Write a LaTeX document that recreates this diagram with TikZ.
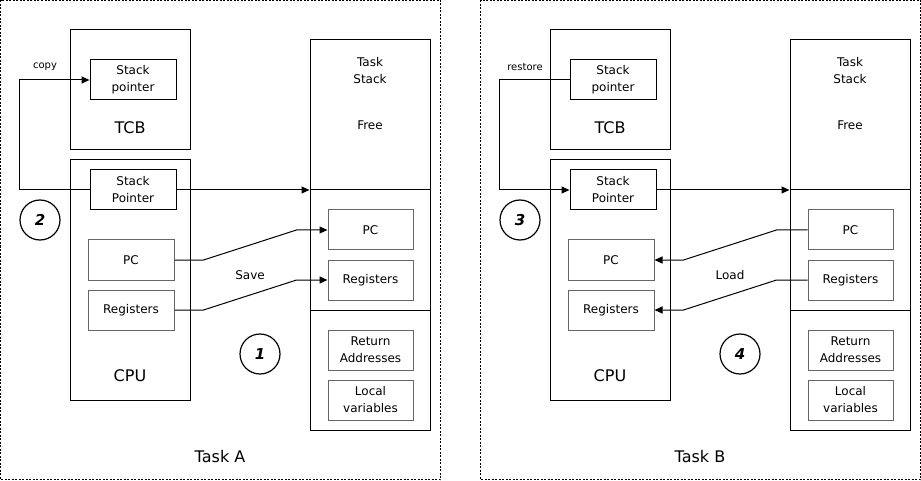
\documentclass[tikz,border=0pt]{standalone}
\usepackage{fontspec}
\setmainfont{DejaVu Sans}
\usetikzlibrary{arrows.meta}
\definecolor{boxgrey}{HTML}{666666}
\newcommand\drawpanel[1]{%
  \draw[frame] (0.5,0.5) rectangle (440.5,479.5);
  \node[bigbox, minimum width=120pt, minimum height=120pt] (tcb) at (130,90) {};
  \node[spbox] (tcbsp) at (133,80) {Stack\\pointer};
  \node[biglbl] (tcblbl) at (130,128) {TCB};
  \node[bigbox, minimum width=120pt, minimum height=240pt] (cpu) at (130,280) {};
  \node[spbox] (cpusp) at (133,190) {Stack\\Pointer};
  \node[regbox] (pc) at (131,260) {PC};
  \node[regbox] (regs) at (131,310) {Registers};
  \node[biglbl] (cpulbl) at (130,376) {CPU};
  \node[bigbox, minimum width=120pt, minimum height=390pt] (st) at (370,235) {};
  \draw[line width=1pt] (310,190) -- (430,190);
  \draw[line width=1pt] (310,310) -- (430,310);
  \node[txt] (sttitle) at (370,71) {Task\\Stack};
  \node[txt] (free) at (370,125) {Free};
  \node[regbox, minimum width=85pt] (spc) at (370.5,230) {PC};
  \node[regbox, minimum width=85pt] (sregs) at (370.5,280) {Registers};
  \node[regbox, minimum width=85pt] (sret) at (370.5,350) {Return\\Addresses};
  \node[regbox, minimum width=85pt] (sloc) at (370.5,400) {Local\\variables};
  \node[biglbl] (tasklbl) at (220,457) {#1};
  \draw[conn] (cpusp.east) -- (cpusp.east -| st.west);
}
\begin{document}
\begin{tikzpicture}[x=1pt,y=-1pt,
  frame/.style={draw=black, dash pattern=on 2pt off 1.5pt, line width=0.8pt},
  bigbox/.style={draw=black, line width=1pt, inner sep=0pt},
  txt/.style={align=center, font=\fontsize{12}{17}\selectfont, inner sep=0pt},
  spbox/.style={txt, draw=black, line width=1pt, minimum width=86pt, minimum height=40pt},
  regbox/.style={spbox, draw=boxgrey},
  biglbl/.style={font=\fontsize{16}{18}\selectfont, inner sep=0pt},
  small/.style={font=\fontsize{10}{12}\selectfont, inner sep=0pt},
  conn/.style={draw=black, line width=1pt, -{Triangle[length=8pt,width=7pt]}},
  num/.style={draw=black, circle, line width=1.2pt, minimum size=40pt, inner sep=0pt,
    font=\fontsize{15}{17}\selectfont\bfseries\itshape},
]
\useasboundingbox (0,0) rectangle (921,481);
\begin{scope}[name prefix=A-]
  \drawpanel{Task A}
  \node[small] (copy) at (45,67) {copy};
  \draw[conn] (cpusp.west) -- ++(-70,0) |- (tcbsp.west);
  \draw[conn] (pc.east) -- ++(29,0) -- ([xshift=-31pt]spc.west) -- (spc.west);
  \draw[conn] (regs.east) -- ++(29,0) -- ([xshift=-31pt]sregs.west) -- (sregs.west);
  \node[txt] (save) at (250,275) {Save};
  \node[num] (n2) at (40,220) {2};
  \node[num] (n1) at (260,354) {1};
\end{scope}
\begin{scope}[xshift=480pt, name prefix=B-]
  \drawpanel{Task B}
  \node[small] (restore) at (45,67) {restore};
  \draw[conn] (tcbsp.west) -- ++(-70,0) |- (cpusp.west);
  \draw[conn] (spc.west) -- ++(-31,0) -- ([xshift=29pt]pc.east) -- (pc.east);
  \draw[conn] (sregs.west) -- ++(-31,0) -- ([xshift=29pt]regs.east) -- (regs.east);
  \node[txt] (load) at (250,275) {Load};
  \node[num] (n3) at (40,220) {3};
  \node[num] (n4) at (260,354) {4};
\end{scope}
\end{tikzpicture}
\end{document}
